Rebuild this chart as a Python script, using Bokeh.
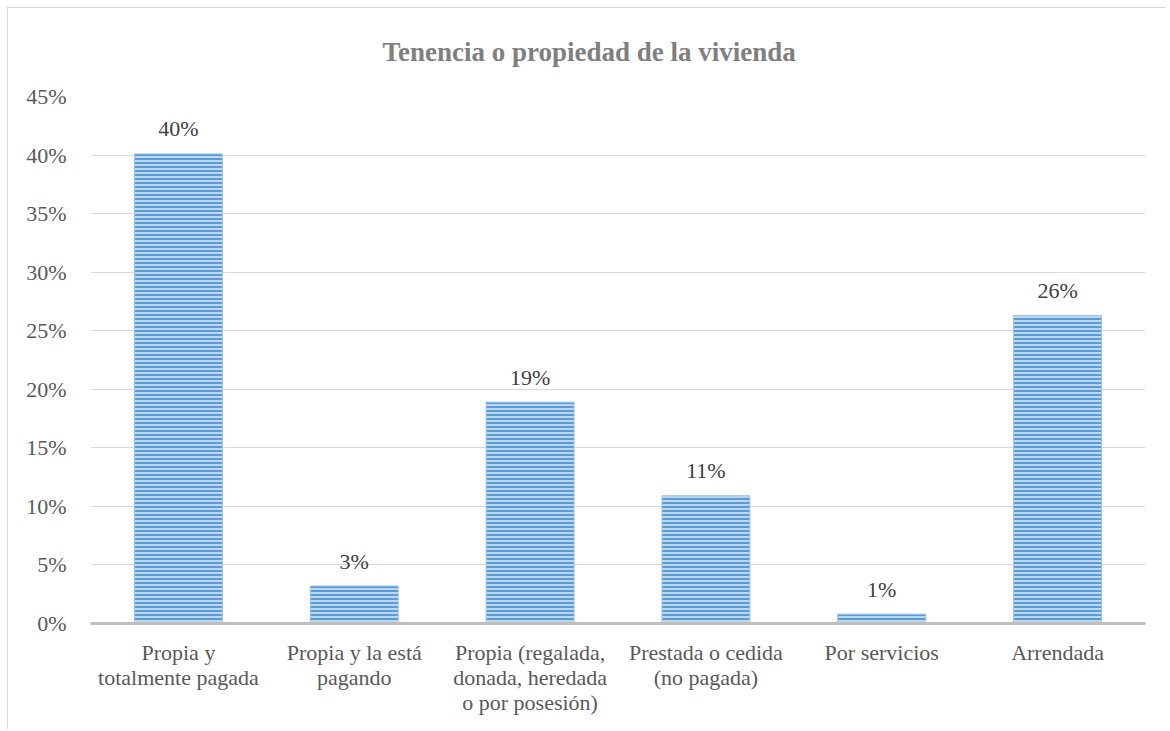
from bokeh.plotting import figure
from bokeh.models import Range1d, FixedTicker, ColumnDataSource
from bokeh.embed import file_html
from bokeh.resources import INLINE
from bokeh.core.properties import value

# ---- data ----
categories = [
    "Propia y\ntotalmente pagada",
    "Propia y la está\npagando",
    "Propia (regalada,\ndonada, heredada\no por posesión)",
    "Prestada o cedida\n(no pagada)",
    "Por servicios",
    "Arrendada",
]
values = [40.1, 3.2, 18.9, 10.9, 0.8, 26.3]
value_labels = ["40%", "3%", "19%", "11%", "1%", "26%"]
y_ticks = [0, 5, 10, 15, 20, 25, 30, 35, 40, 45]
y_tick_labels = ["0%", "5%", "10%", "15%", "20%", "25%", "30%", "35%", "40%", "45%"]
title_text = "Tenencia o propiedad de la vivienda"

FONT = "Liberation Serif, Times New Roman, serif"

src = ColumnDataSource(dict(x=categories, top=values, lab=value_labels))

W, H = 1166, 729
p = figure(
    x_range=categories,
    y_range=Range1d(0, 45),
    width=W,
    height=H,
    output_backend="svg",
    toolbar_location=None,
    min_border_left=90,
    min_border_right=21,
    min_border_top=96,
    min_border_bottom=106,
    title=title_text,
)
# thin chart-area frame lines (left and top), as in the original chart box
p.styles = {
    "background-color": "white",
    "background-image": "linear-gradient(#d9d9d9, #d9d9d9), linear-gradient(#d9d9d9, #d9d9d9)",
    "background-size": "1px 100%, 100% 1px",
    "background-position": "7px 7px, 7px 7px",
    "background-repeat": "no-repeat",
}
p.outline_line_color = None
p.background_fill_color = None
p.border_fill_color = None

p.title.align = "left"
p.title.offset = 292
p.title.standoff = 60
p.title.text_font = FONT
p.title.text_font_size = "27px"
p.title.text_font_style = "bold"
p.title.text_color = "#7f7f7f"

p.vbar(
    x="x", top="top", width=0.5, source=src,
    fill_color="#bdd7ee",
    hatch_pattern="horizontal_line",
    hatch_color="#5b9bd5",
    hatch_scale=4,
    hatch_weight=2,
    line_color="#9dc3e6",
    line_width=1,
)

p.text(
    x="x", y="top", text="lab", source=src,
    y_offset=-25,
    text_align="center",
    text_baseline="alphabetic",
    text_font=value(FONT),
    text_font_size="22px",
    text_color="#404040",
)

# axes
p.yaxis.ticker = FixedTicker(ticks=y_ticks)
p.yaxis.major_label_overrides = {t: l for t, l in zip(y_ticks, y_tick_labels)}
p.yaxis.axis_line_color = None
p.yaxis.major_tick_line_color = None
p.yaxis.minor_tick_line_color = None
p.yaxis.major_label_standoff = 18
p.yaxis.major_label_text_font = FONT
p.yaxis.major_label_text_font_size = "22px"
p.yaxis.major_label_text_color = "#595959"

p.xaxis.axis_line_color = "#bfbfbf"
p.xaxis.axis_line_width = 3
p.xaxis.major_tick_line_color = None
p.xaxis.minor_tick_line_color = None
p.xaxis.major_label_standoff = 10
p.xaxis.major_label_text_font = FONT
p.xaxis.major_label_text_font_size = "22px"
p.xaxis.major_label_text_color = "#595959"
p.xaxis.major_label_text_line_height = 1.0

p.xgrid.grid_line_color = None
p.ygrid.grid_line_color = "#d9d9d9"
p.ygrid.grid_line_width = 1

open("out.html", "w").write(file_html(p, INLINE))
